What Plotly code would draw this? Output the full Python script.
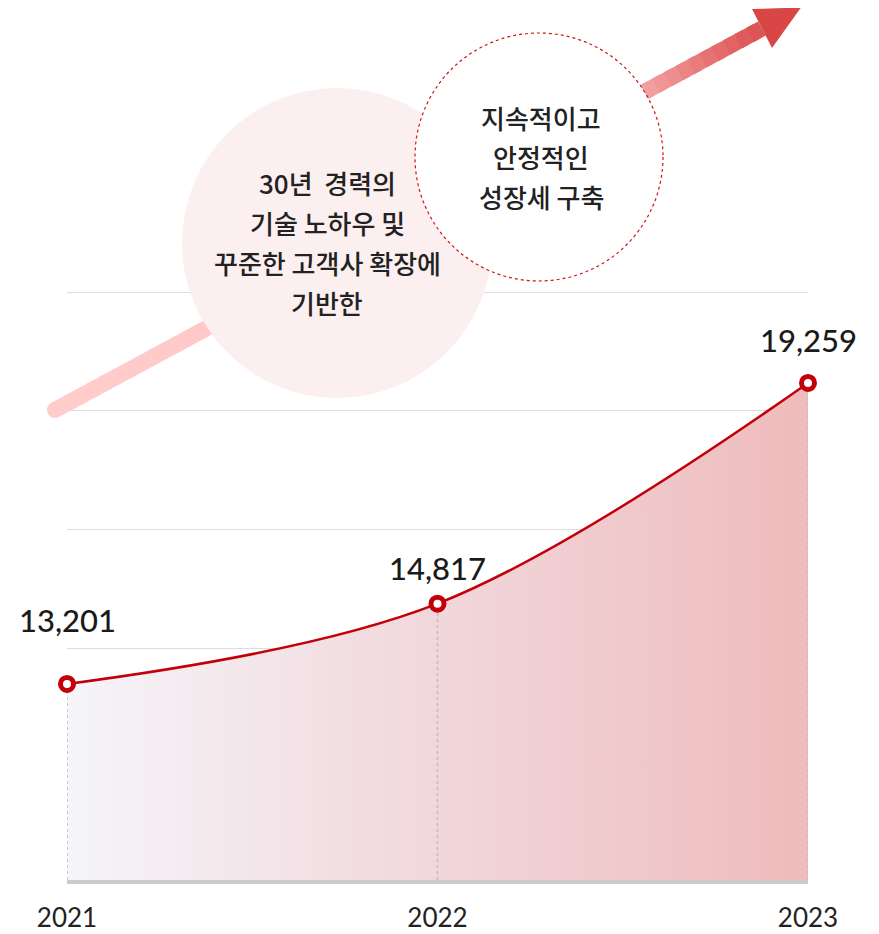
import plotly.graph_objects as go

# ---- data ----
years = [2021, 2022, 2023]
revenue = [13201, 14817, 19259]
year_labels = ["2021", "2022", "2023"]
circle1_lines = ["30년\u00a0 경력의", "기술 노하우 및", "꾸준한 고객사 확장에", "기반한"]
circle2_lines = ["지속적이고", "안정적인", "성장세 구축"]

# ---- geometry (page has an 8px body margin) ----
OFF = 8
W, H = 879 - OFF, 934 - OFF
L, R, T, B = 67 - OFF, 71, 290 - OFF, 54
PW, PH = W - L - R, H - T - B


def X(px):  # reference-picture pixel -> paper
    return (px - OFF - L) / PW


def Y(py):
    return (H - B - (py - OFF)) / PH


Y_RANGE = [9256, 21130]
RED = "#c3000a"
NUM_FONT = "Lato"
KR_FONT = "Noto Sans CJK KR"

fig = go.Figure()

# area + line
fig.add_trace(go.Scatter(
    x=years, y=revenue, mode="lines",
    line=dict(color=RED, width=2.5, shape="spline", smoothing=1.0),
    fill="tozeroy",
    fillgradient=dict(type="horizontal",
                      colorscale=[[0, "#f5f5fa"], [0.5, "#f1d7db"], [1, "#efbbbc"]]),
    hoverinfo="skip",
))

# dotted drop lines
for yr, v in zip(years, revenue):
    fig.add_trace(go.Scatter(
        x=[yr, yr], y=[Y_RANGE[0], v], mode="lines",
        line=dict(color="#bdbdbd", width=1.5, dash="dot"),
        hoverinfo="skip",
    ))

# markers
fig.add_trace(go.Scatter(
    x=years, y=revenue, mode="markers",
    marker=dict(size=13, color="white", line=dict(color=RED, width=5)),
    cliponaxis=False, hoverinfo="skip",
))

annotations = []
label_shift = [64, 36, 43]
for yr, v, s in zip(years, revenue, label_shift):
    annotations.append(dict(
        x=yr, y=v, xref="x", yref="y", text=f"{v:,}", showarrow=False,
        yshift=s, xanchor="center", yanchor="middle",
        font=dict(family=NUM_FONT, size=31, color="#1a1a1a", weight=500),
    ))

# ---- decorative arrow ----
shapes = []
P0 = (55, 410)
P1 = (762, 28.5)
stops = [(0.0, (255, 204, 204)), (0.3, (255, 200, 200)),
         (0.83, (244, 166, 166)), (1.0, (220, 80, 80))]


def color_at(t):
    for (t0, c0), (t1, c1) in zip(stops[:-1], stops[1:]):
        if t0 <= t <= t1:
            f = (t - t0) / (t1 - t0) if t1 > t0 else 0
            c = [round(a + (b - a) * f) for a, b in zip(c0, c1)]
            return "rgb(%d,%d,%d)" % tuple(c)
    return "rgb(%d,%d,%d)" % stops[-1][1]


N = 60
for i in range(N):
    ta = i / N
    tb = min(1.0, (i + 1.6) / N)
    xa = P0[0] + (P1[0] - P0[0]) * ta
    ya = P0[1] + (P1[1] - P0[1]) * ta
    xb = P0[0] + (P1[0] - P0[0]) * tb
    yb = P0[1] + (P1[1] - P0[1]) * tb
    shapes.append(dict(type="line", xref="paper", yref="paper",
                       x0=X(xa), y0=Y(ya), x1=X(xb), y1=Y(yb),
                       line=dict(color=color_at((ta + tb) / 2), width=16),
                       layer="above"))
# round cap
rc = 8
shapes.append(dict(type="circle", xref="paper", yref="paper",
                   x0=X(P0[0] - rc), x1=X(P0[0] + rc), y0=Y(P0[1] + rc), y1=Y(P0[1] - rc),
                   fillcolor=color_at(0), line=dict(width=0), layer="above"))
# arrow head
head = [(752, 9), (801, 7.5), (772, 48)]
path = "M {} {} L {} {} L {} {} Z".format(*[v for p in head for v in (X(p[0]), Y(p[1]))])
shapes.append(dict(type="path", xref="paper", yref="paper", path=path,
                   fillcolor="#d94646", line=dict(width=0), layer="above"))

# circles
c1 = (337, 243, 155)
shapes.append(dict(type="circle", xref="paper", yref="paper",
                   x0=X(c1[0] - c1[2]), x1=X(c1[0] + c1[2]),
                   y0=Y(c1[1] + c1[2]), y1=Y(c1[1] - c1[2]),
                   fillcolor="#fbefef", line=dict(width=0), layer="above"))
c2 = (539, 157, 124)
shapes.append(dict(type="circle", xref="paper", yref="paper",
                   x0=X(c2[0] - c2[2]), x1=X(c2[0] + c2[2]),
                   y0=Y(c2[1] + c2[2]), y1=Y(c2[1] - c2[2]),
                   fillcolor="white", line=dict(width=1.2, color="#d01515", dash="dot"),
                   layer="above"))

for i, txt in enumerate(circle1_lines):
    annotations.append(dict(x=X(327), y=Y(182 + 40 * i), xref="paper", yref="paper",
                            text=txt, showarrow=False, xanchor="center", yanchor="middle",
                            font=dict(family=KR_FONT, size=26, color="#222222", weight=500)))
for i, txt in enumerate(circle2_lines):
    annotations.append(dict(x=X(541), y=Y(117 + 40 * i), xref="paper", yref="paper",
                            text=txt, showarrow=False, xanchor="center", yanchor="middle",
                            font=dict(family=KR_FONT, size=26, color="#222222", weight=500)))

fig.update_layout(
    width=W, height=H,
    margin=dict(l=L, r=R, t=T, b=B, pad=0, autoexpand=False),
    paper_bgcolor="white", plot_bgcolor="white",
    showlegend=False,
    shapes=shapes,
    annotations=annotations,
    xaxis=dict(range=[years[0], years[-1]], showgrid=False, zeroline=False,
               showline=True, linecolor="#cccccc", linewidth=4,
               tickvals=years, ticktext=year_labels, ticks="",
               ticklabelstandoff=12, automargin=False,
               tickfont=dict(family=NUM_FONT, size=26, color="#222222"),
               fixedrange=True),
    yaxis=dict(range=Y_RANGE, showgrid=True, gridcolor="#dddddd", gridwidth=1,
               tick0=13925, dtick=2388, showticklabels=False, zeroline=False,
               showline=False, ticks="", automargin=False, fixedrange=True),
)

fig.write_html("out.html")
